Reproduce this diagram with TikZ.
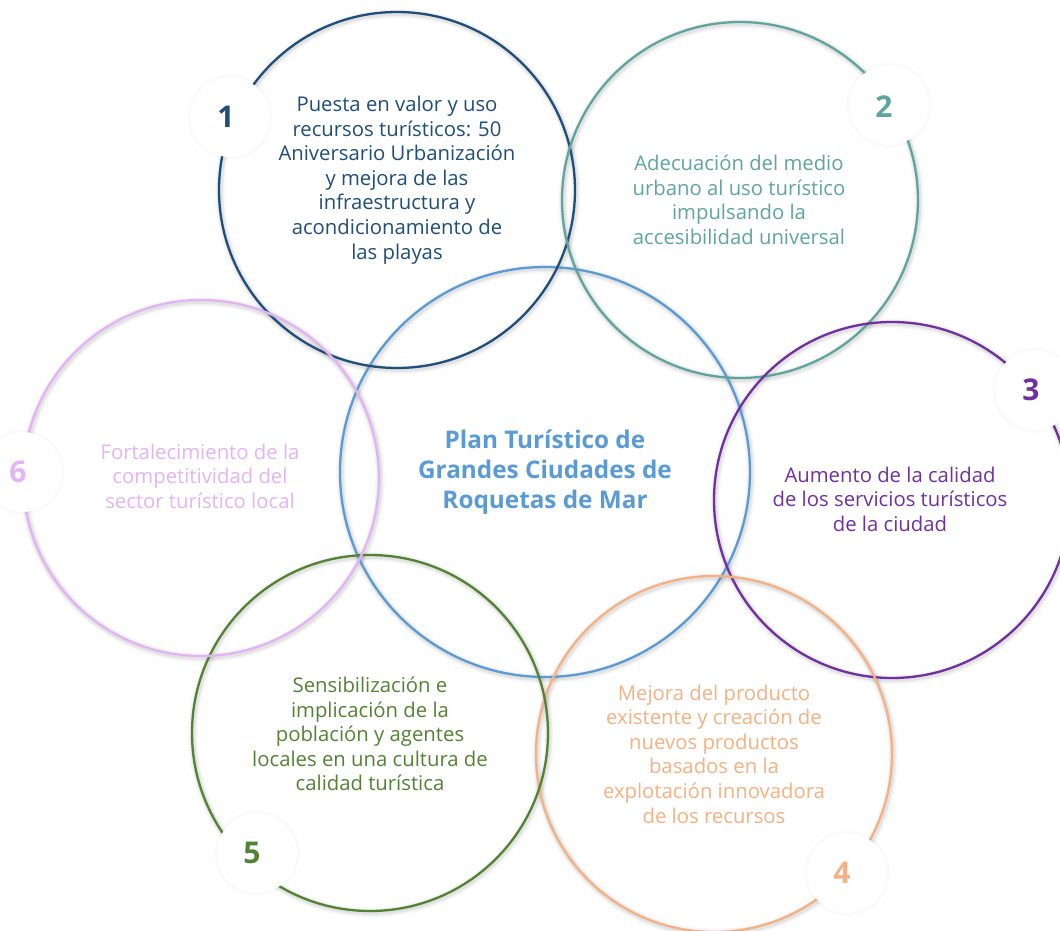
\documentclass[tikz,border=0pt]{standalone}
\usepackage{fontspec}
\setmainfont{Open Sans}
\definecolor{cBlue}{HTML}{1F4E79}
\definecolor{cTeal}{HTML}{5FA59D}
\definecolor{cPurple}{HTML}{7030A0}
\definecolor{cPeach}{HTML}{F4B183}
\definecolor{cGreen}{HTML}{548235}
\definecolor{cLav}{HTML}{E2B4F6}
\definecolor{cCenter}{HTML}{5B9BD5}
\tikzset{
  ring/.style={circle, minimum size=356pt, inner sep=0pt, line width=2.3pt, draw=#1},
  bigring/.style={circle, minimum size=410pt, inner sep=0pt, line width=2.3pt, draw=#1},
  txt/.style={align=center, inner sep=0pt, font=\fontsize{20.3}{24.6}\selectfont},
  title/.style={align=center, inner sep=0pt, text=cCenter, font=\bfseries\fontsize{24.3}{30}\selectfont},
  disc/.style={circle, fill=white, minimum size=80pt, inner sep=0pt},
  num/.style={inner sep=0pt, font=\bfseries\fontsize{30}{30}\selectfont},
}
\begin{document}
\begin{tikzpicture}[x=1pt,y=-1pt]
\clip (0,0) rectangle (1060,931);
\fill[white] (0,0) rectangle (1060,931);
% centres
\coordinate (p0) at (545,472);
\coordinate (p1) at (397,190);
\coordinate (p2) at (740,200);
\coordinate (p3) at (892,500);
\coordinate (p4) at (714,754);
\coordinate (p5) at (370,733);
\coordinate (p6) at (201,478);
% soft shadows
\foreach \p/\r in {p0/205,p1/178,p2/178,p3/178,p4/178,p5/178,p6/178}{
  \foreach \w/\o in {10/0.025,7/0.035,4.5/0.05}{
    \draw[line width=\w pt, black, opacity=\o] ([xshift=1pt,yshift=-1.5pt]\p) circle[radius=\r];
  }
}
% rings
\node[bigring=cCenter] (c0) at (p0) {};
\node[ring=cBlue] (c1) at (p1) {};
\node[ring=cTeal] (c2) at (p2) {};
\node[ring=cPurple] (c3) at (p3) {};
\node[ring=cPeach] (c4) at (p4) {};
\node[ring=cGreen] (c5) at (p5) {};
\node[ring=cLav] (c6) at (p6) {};
% number discs
\foreach \d/\x/\y in {d1/230/117, d2/889/105, d3/1035/390, d4/847/873, d5/257/853, d6/22/472}{
  \fill[black, opacity=0.012] (\x,\y) circle[radius=43];
  \fill[black, opacity=0.012] (\x,\y) circle[radius=41.5];
  \node[disc] (\d) at (\x,\y) {};
}
\node[num, text=cBlue] (n1) at (226,117) {1};
\node[num, text=cTeal] (n2) at (884,107) {2};
\node[num, text=cPurple] (n3) at (1031,390) {3};
\node[num, text=cPeach] (n4) at (842,873) {4};
\node[num, text=cGreen] (n5) at (252,853) {5};
\node[num, text=cLav] (n6) at (18,472) {6};
% texts
\node[title] (t0) at (545,472) {Plan Turístico de\\Grandes Ciudades de\\Roquetas de Mar};
\node[txt, text=cBlue] (t1) at (397,180) {Puesta en valor y uso\\recursos turísticos: 50\\Aniversario Urbanización\\y mejora de las\\infraestructura y\\acondicionamiento de\\las playas};
\node[txt, text=cTeal] (t2) at (739,200) {Adecuación del medio\\urbano al uso turístico\\impulsando la\\accesibilidad universal};
\node[txt, text=cPurple] (t3) at (890,499) {Aumento de la calidad\\de los servicios turísticos\\de la ciudad};
\node[txt, text=cPeach] (t4) at (714,754) {Mejora del producto\\existente y creación de\\nuevos productos\\basados en la\\explotación innovadora\\de los recursos};
\node[txt, text=cGreen] (t5) at (370,734) {Sensibilización e\\implicación de la\\población y agentes\\locales en una cultura de\\calidad turística};
\node[txt, text=cLav] (t6) at (200,476) {Fortalecimiento de la\\competitividad del\\sector turístico local};
\end{tikzpicture}
\end{document}
